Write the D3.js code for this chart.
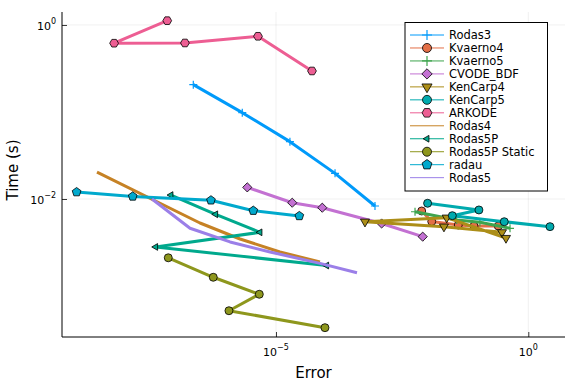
<!DOCTYPE html>
<html><head><meta charset="utf-8">
<script src="https://cdn.jsdelivr.net/npm/d3@7"></script>
<style>body{margin:0;background:#fff}svg{display:block}text{font-family:"DejaVu Sans",sans-serif}</style>
</head><body><svg id="c" width="576" height="384"></svg>
<script>
const seriesNames = ["Rodas3","Kvaerno4","Kvaerno5","CVODE_BDF","KenCarp4","KenCarp5","ARKODE","Rodas4","Rodas5P","Rodas5P Static","radau","Rodas5"];
const seriesColors = ["#009AFA","#E36F47","#3EA44E","#C371D2","#AC8E18","#00AAAE","#ED5E93","#C68225","#00A98D","#8E971D","#00A9CD","#9B7FE8"];
const seriesMarkers = ["plus","circle","plus","diamond","dtriangle","circle","hexagon","none","ltriangle","circle","pentagon","none"];
// [error, time]
const Rodas3 = [[2.30e-7,0.206],[2.15e-6,0.0982],[1.89e-5,0.0456],[1.48e-4,0.0197],[9.16e-4,0.00831]];
const Kvaerno4 = [[7.71e-3,0.00728],[0.0122,0.00551],[0.041,0.00502],[0.0839,0.00489],[0.254,0.00489]];
const Kvaerno5 = [[5.69e-3,0.00714],[0.0381,0.00574],[0.110,0.0054],[0.434,0.0046]];
const CVODE_BDF = [[2.70e-6,0.0136],[2.10e-5,0.00906],[8.27e-5,0.00794],[1.24e-3,0.00523],[8.08e-3,0.00369]];
const KenCarp4 = [[0.301,0.00414],[0.0213,0.00481],[5.8e-4,0.00548],[0.0241,0.0061],[0.361,0.00356]];
const KenCarp5 = [[0.0101,0.00893],[0.105,0.00748],[0.0312,0.00643],[0.334,0.00548],[2.69,0.00481]];
const ARKODE = [[7.0e-8,1.12],[6.2e-9,0.617],[1.57e-7,0.621],[4.4e-6,0.741],[5.17e-5,0.296]];
const Rodas4 = [[2.84e-9,0.0204],[3.12e-7,0.0053],[1.94e-6,0.00347],[1.20e-5,0.00246],[7.45e-5,0.00189]];
const Rodas5P = [[8.30e-8,0.0111],[6.38e-7,0.00667],[4.82e-6,0.00414],[4.13e-8,0.00281],[1.01e-4,0.00172]];
const Rodas5PStatic = [[7.34e-8,0.00211],[5.72e-7,0.00126],[4.67e-6,0.000804],[1.17e-6,0.00052],[9.35e-5,0.000332]];
const radau = [[1.12e-9,0.012],[1.45e-8,0.0107],[5.15e-7,0.00966],[3.55e-6,0.00734],[2.90e-5,0.00638]];
const Rodas5 = [[3.49e-8,0.01],[1.98e-7,0.00461],[1.23e-6,0.00321],[7.61e-6,0.00246],[7.45e-5,0.00182],[4.03e-4,0.00142]];
const seriesData = [Rodas3,Kvaerno4,Kvaerno5,CVODE_BDF,KenCarp4,KenCarp5,ARKODE,Rodas4,Rodas5P,Rodas5PStatic,radau,Rodas5];
const xTicks = [1e-5, 1];
const xTickLabels = [["10","−5"],["10","0"]];
const yTicks = [1e-2, 1];
const yTickLabels = [["10","−2"],["10","0"]];
const xLabel = "Error", yLabel = "Time (s)";

const svg = d3.select("#c");
const L=62, R=565, T=12, B=337;
const x = d3.scaleLog().domain([Math.pow(10,-9.24), Math.pow(10,0.727)]).range([L,R]);
const y = d3.scaleLog().domain([Math.pow(10,-3.586), Math.pow(10,0.149)]).range([B,T]);

// grid
const g = svg.append("g");
xTicks.forEach(t=>g.append("line").attr("x1",x(t)).attr("x2",x(t)).attr("y1",T).attr("y2",B).attr("stroke","#000").attr("stroke-opacity",0.1).attr("stroke-width",0.6));
yTicks.forEach(t=>g.append("line").attr("y1",y(t)).attr("y2",y(t)).attr("x1",L).attr("x2",R).attr("stroke","#000").attr("stroke-opacity",0.1).attr("stroke-width",0.6));
// axes
const xAxis = d3.axisBottom(x).tickValues(xTicks).tickSize(-5).tickFormat("");
const yAxis = d3.axisLeft(y).tickValues(yTicks).tickSize(-5).tickFormat("");
const gx = svg.append("g").attr("transform",`translate(0,${B})`).call(xAxis);
const gy = svg.append("g").attr("transform",`translate(${L},0)`).call(yAxis);
[gx,gy].forEach(a=>{a.select(".domain").remove();a.selectAll("line").attr("stroke","#000").attr("stroke-width",0.8);});
svg.append("line").attr("x1",L).attr("x2",R).attr("y1",B).attr("y2",B).attr("stroke","#000").attr("stroke-width",1);
svg.append("line").attr("x1",L).attr("x2",L).attr("y1",T).attr("y2",B).attr("stroke","#000").attr("stroke-width",1);

xTicks.forEach((t,i)=>{
  const tx = svg.append("text").attr("x",x(t)).attr("y",356).attr("text-anchor","middle").attr("font-size",11).attr("fill","#000");
  tx.append("tspan").text(xTickLabels[i][0]);
  tx.append("tspan").attr("dy",-6).attr("font-size",8).text(xTickLabels[i][1]);
});
yTicks.forEach((t,i)=>{
  const tx = svg.append("text").attr("x",L-6).attr("y",y(t)+5).attr("text-anchor","end").attr("font-size",11).attr("fill","#000");
  tx.append("tspan").text(yTickLabels[i][0]);
  tx.append("tspan").attr("dy",-6).attr("font-size",8).text(yTickLabels[i][1]);
});
svg.append("text").attr("x",(L+R)/2).attr("y",378).attr("text-anchor","middle").attr("font-size",15).text(xLabel);
svg.append("text").attr("transform",`translate(18,170) rotate(-90)`).attr("text-anchor","middle").attr("font-size",15).text(yLabel);

function markerPath(type, s){
  if(type==="circle") return d3.symbol(d3.symbolCircle, Math.PI*s*s)();
  if(type==="diamond"){ return `M0,${-s*1.15}L${s*1.15},0L0,${s*1.15}L${-s*1.15},0Z`; }
  const poly=(n,rot,r)=>{let p=[];for(let k=0;k<n;k++){const a=rot+2*Math.PI*k/n;p.push([r*Math.cos(a),r*Math.sin(a)]);}return "M"+p.map(q=>q.join(",")).join("L")+"Z";};
  if(type==="hexagon") return poly(6,0,s*1.1);
  if(type==="pentagon") return poly(5,-Math.PI/2,s*1.15);
  if(type==="dtriangle") return poly(3,Math.PI/2,s*1.3);
  if(type==="ltriangle") return poly(3,Math.PI,s*1.3);
  return null;
}
function drawMarker(sel, type, color, cx, cy, s){
  if(type==="none") return;
  if(type==="plus"){
    sel.append("path").attr("d",`M${cx-s},${cy}H${cx+s}M${cx},${cy-s}V${cy+s}`).attr("stroke",color).attr("stroke-width",1.2).attr("fill","none");
    return;
  }
  sel.append("path").attr("d",markerPath(type,s)).attr("transform",`translate(${cx},${cy})`).attr("fill",color).attr("stroke","#000").attr("stroke-width",0.8);
}
const line = d3.line().x(d=>x(d[0])).y(d=>y(d[1]));
const plot = svg.append("g");
seriesData.forEach((data,i)=>{
  plot.append("path").datum(data).attr("d",line).attr("fill","none").attr("stroke",seriesColors[i]).attr("stroke-width",3).attr("stroke-linejoin","round");
  const msize = seriesMarkers[i]==="ltriangle"?3:4;
  data.forEach(d=>drawMarker(plot, seriesMarkers[i], seriesColors[i], x(d[0]), y(d[1]), msize));
});

// legend
const lg = svg.append("g");
lg.append("rect").attr("x",405).attr("y",22.5).attr("width",142.5).attr("height",168.5).attr("fill","#fff").attr("stroke","#000").attr("stroke-width",1);
seriesNames.forEach((n,i)=>{
  const yy = 35 + i*12.97;
  lg.append("line").attr("x1",410).attr("x2",444).attr("y1",yy).attr("y2",yy).attr("stroke",seriesColors[i]).attr("stroke-width",1);
  const ms = seriesMarkers[i]==="ltriangle"?3:seriesMarkers[i]==="plus"?5:4.5;
  drawMarker(lg, seriesMarkers[i], seriesColors[i], 427, yy, ms);
  lg.append("text").attr("x",449).attr("y",yy+4).attr("font-size",11.5).text(n);
});
</script></body></html>
